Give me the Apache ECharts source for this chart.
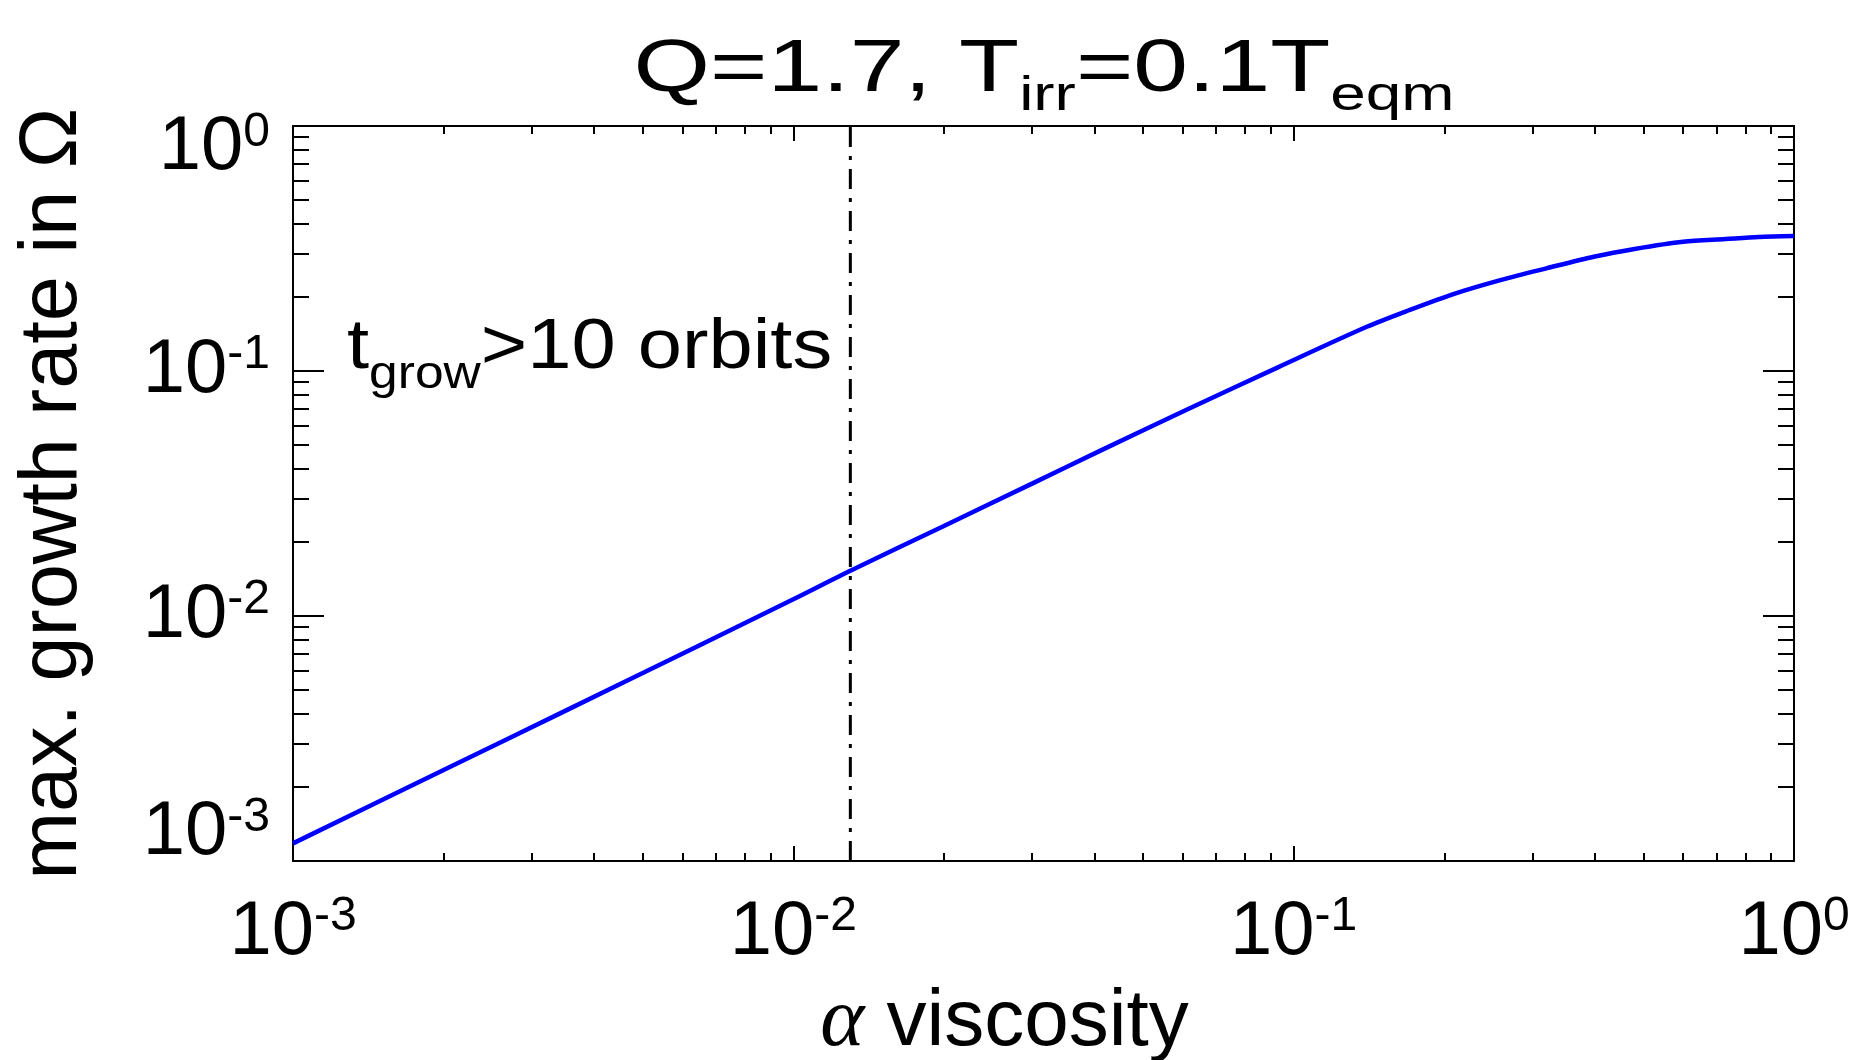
<!DOCTYPE html>
<html>
<head>
<meta charset="utf-8">
<title>max. growth rate vs alpha</title>
<script src="https://cdn.jsdelivr.net/npm/echarts@6/dist/echarts.min.js"></script>
<style>
  html, body { margin: 0; padding: 0; background: #fff; }
  #chart { width: 1870px; height: 1060px; }
</style>
</head>
<body>
<div id="chart"></div>
<script>
// alpha viscosity and the max. growth rate (in units of Omega)
const alphaValues = [0.001, 0.002, 0.0035, 0.0065, 0.01, 0.013, 0.02, 0.03, 0.041, 0.062, 0.093, 0.14, 0.17, 0.21, 0.26, 0.32, 0.4, 0.48, 0.6, 0.73, 0.85, 1.0];
const growthRates = [0.00118, 0.00235, 0.0041, 0.0076, 0.0117, 0.0153, 0.0233, 0.0347, 0.0472, 0.0705, 0.1035, 0.1515, 0.1770, 0.2070, 0.2355, 0.2625, 0.2935, 0.3150, 0.3370, 0.3455, 0.3520, 0.3556];

// dash-dot marker where t_grow = 10 orbits
const alphaCut = 0.013;
const cutLine = [[alphaCut, 0.001], [alphaCut, 1]];

// decades shown on both axes, and the minor ticks in between (log10 space)
const decades = [-3, -2, -1];
const minorSteps = [2, 3, 4, 5, 6, 7, 8, 9];
const minorTicks = [];
decades.forEach(d => minorSteps.forEach(m => minorTicks.push(d + Math.log10(m))));

const FONT = "'Liberation Sans', Helvetica, Arial, sans-serif";

const tickRich = {
  b: { fontSize: 76, lineHeight: 80, fontFamily: FONT, color: '#000' },
  sup: { fontSize: 48, lineHeight: 22, verticalAlign: 'top', fontFamily: FONT, color: '#000' },
  gapTop: { fontSize: 10, lineHeight: 45 },
  gapBot: { fontSize: 10, lineHeight: 55 }
};

function expLabel(v) {
  return '{b|10}{sup|' + Math.round(Math.log10(v)) + '}';
}

function yLabel(v) {
  const e = Math.round(Math.log10(v));
  if (e === 0) return '{gapTop| }\n' + expLabel(v);
  if (e === -3) return expLabel(v) + '\n{gapBot| }';
  return expLabel(v);
}

const lineCol = '#000';

function majorAxis(pos, isX, showLabel) {
  return {
    type: 'log',
    logBase: 10,
    min: 0.001,
    max: 1,
    position: pos,
    axisLine: { show: true, onZero: false, lineStyle: { color: lineCol, width: 2 } },
    axisTick: { show: true, inside: true, length: isX ? 15 : 31, lineStyle: { color: lineCol, width: 2 } },
    axisLabel: {
      show: showLabel,
      margin: isX ? 32 : 23,
      showMinLabel: true,
      showMaxLabel: true,
      formatter: isX ? expLabel : yLabel,
      rich: tickRich
    },
    splitLine: { show: false }
  };
}

function minorAxis(pos, isX) {
  return {
    type: 'value',
    min: -3,
    max: 0,
    position: pos,
    axisLine: { show: false, onZero: false },
    axisTick: { show: true, inside: true, length: isX ? 8 : 16, customValues: minorTicks, lineStyle: { color: lineCol, width: 2 } },
    axisLabel: { show: false },
    splitLine: { show: false }
  };
}

const xMain = majorAxis('bottom', true, true);
xMain.name = '{g|α} viscosity';
xMain.nameLocation = 'middle';
xMain.nameGap = 120;
xMain.nameTextStyle = {
  fontSize: 80, fontFamily: FONT, color: '#000', padding: [0, 78, 0, 0],
  rich: { g: { fontSize: 84, fontFamily: "'Liberation Serif', 'DejaVu Serif', serif", fontStyle: 'italic', color: '#000' } }
};

const yMain = majorAxis('left', false, true);
yMain.name = 'max. growth rate in Ω';
yMain.nameLocation = 'middle';
yMain.nameRotate = 90;
yMain.nameGap = 199;
yMain.nameTextStyle = { fontSize: 81, fontFamily: FONT, color: '#000' };

const mcharts = echarts.init(document.getElementById('chart'));

const option = {
  animation: false,
  backgroundColor: '#fff',
  grid: { left: 293, right: 76, top: 126, bottom: 199, containLabel: false, outerBoundsMode: 'none' },
  xAxis: [xMain, majorAxis('top', true, false), minorAxis('bottom', true), minorAxis('top', true)],
  yAxis: [yMain, majorAxis('right', false, false), minorAxis('left', false), minorAxis('right', false)],
  graphic: [
    {
      type: 'text',
      x: 1044,
      y: 71,
      scaleX: 1.33,
      style: {
        text: '{m|Q=1.7, T}{s|irr}{m|=0.1T}{s|eqm}',
        align: 'center',
        verticalAlign: 'middle',
        rich: {
          m: { fontSize: 74, lineHeight: 100, fontFamily: FONT, fill: '#000' },
          s: { fontSize: 48, lineHeight: 50, verticalAlign: 'bottom', fontFamily: FONT, fill: '#000' }
        }
      }
    },
    {
      type: 'text',
      x: 347,
      y: 348,
      scaleX: 1.12,
      style: {
        text: '{m|t}{s|grow}{m|>10 orbits}',
        align: 'left',
        verticalAlign: 'middle',
        rich: {
          m: { fontSize: 71, lineHeight: 100, fontFamily: FONT, fill: '#000' },
          s: { fontSize: 46, lineHeight: 52, verticalAlign: 'bottom', fontFamily: FONT, fill: '#000' }
        }
      }
    }
  ],
  series: [
    {
      name: 'growth',
      type: 'line',
      xAxisIndex: 0,
      yAxisIndex: 0,
      data: alphaValues.map((a, i) => [a, growthRates[i]]),
      smooth: 0.3,
      showSymbol: false,
      lineStyle: { color: '#0000ff', width: 4.5 }
    },
    {
      name: 'cut',
      type: 'line',
      xAxisIndex: 0,
      yAxisIndex: 0,
      data: cutLine,
      showSymbol: false,
      lineStyle: { color: '#000', width: 3, type: [20, 9, 4, 9] }
    }
  ]
};

mcharts.setOption(option);
</script>
</body>
</html>
